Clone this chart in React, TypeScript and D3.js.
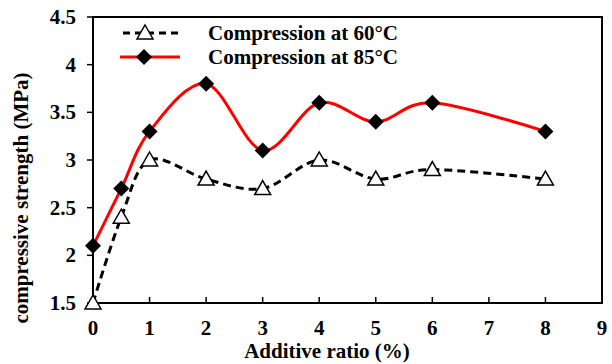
import React from "react";
import * as d3 from "d3";

const ratios = [0, 0.5, 1, 2, 3, 4, 5, 6, 8];
const comp60 = [1.5, 2.4, 3.0, 2.8, 2.7, 3.0, 2.8, 2.9, 2.8];
const comp85 = [2.1, 2.7, 3.3, 3.8, 3.1, 3.6, 3.4, 3.6, 3.3];
const xTicks = [0, 1, 2, 3, 4, 5, 6, 7, 8, 9];
const yTicks = [1.5, 2, 2.5, 3, 3.5, 4, 4.5];
const legendLabels = ["Compression at 60°C", "Compression at 85°C"];

const width = 612;
const height = 364;
const txt = { fontFamily: "'Liberation Serif', 'Times New Roman', serif", fontWeight: 700 } as const;

export default function App() {
  const x = d3.scaleLinear().domain([0, 9]).range([93, 602]);
  const y = d3.scaleLinear().domain([1.5, 4.5]).range([303, 17]);

  const line = d3
    .line<number>()
    .x((d, i) => x(ratios[i]))
    .y((d) => y(d))
    .curve(d3.curveCatmullRom.alpha(0));

  const triangle = (cx: number, cy: number) =>
    `M${cx},${cy - 8} L${cx + 8},${cy + 6} L${cx - 8},${cy + 6} Z`;
  const diamond = (cx: number, cy: number) =>
    `M${cx},${cy - 8} L${cx + 8},${cy} L${cx},${cy + 8} L${cx - 8},${cy} Z`;

  return (
    <svg
      width={width}
      height={height}
      style={{ position: "absolute", left: 0, top: 0, background: "#fff" }}
    >
      {/* frame */}
      <rect x={93} y={17} width={509} height={286} fill="none" stroke="#000" strokeWidth={2} />

      {/* x ticks (inside) */}
      {xTicks.map((t) => (
        <g key={"x" + t}>
          <line x1={x(t)} x2={x(t)} y1={303} y2={297} stroke="#000" strokeWidth={1.5} />
          <text x={x(t)} y={335} textAnchor="middle" fontSize={21} style={txt}>
            {t}
          </text>
        </g>
      ))}

      {/* y ticks (outside) */}
      {yTicks.map((t) => (
        <g key={"y" + t}>
          <line x1={87} x2={93} y1={y(t)} y2={y(t)} stroke="#000" strokeWidth={1.5} />
          <text x={76} y={y(t) + 7} textAnchor="end" fontSize={21} style={txt}>
            {t}
          </text>
        </g>
      ))}

      <text x={327} y={358} textAnchor="middle" fontSize={21} style={txt}>
        Additive ratio (%)
      </text>
      <text
        transform={`translate(28,198) rotate(-90)`}
        textAnchor="middle"
        fontSize={21}
        style={txt}
      >
        compressive strength (MPa)
      </text>

      {/* series */}
      <path d={line(comp85) || ""} fill="none" stroke="#ff0000" strokeWidth={3} />
      <path
        d={line(comp60) || ""}
        fill="none"
        stroke="#000"
        strokeWidth={3}
        strokeDasharray="8,5"
      />
      {comp85.map((v, i) => (
        <path key={"d" + i} d={diamond(x(ratios[i]), y(v))} fill="#000" />
      ))}
      {comp60.map((v, i) => (
        <path
          key={"t" + i}
          d={triangle(x(ratios[i]), y(v))}
          fill="#fff"
          stroke="#000"
          strokeWidth={1.5}
        />
      ))}

      {/* legend */}
      <g>
        <line x1={123} x2={181} y1={33} y2={33} stroke="#000" strokeWidth={3} strokeDasharray="7,5" />
        <path d={triangle(145, 33)} fill="#fff" stroke="#000" strokeWidth={1.5} />
        <text x={208} y={40} fontSize={21} style={txt}>
          {legendLabels[0]}
        </text>
        <line x1={120} x2={180} y1={57} y2={57} stroke="#ff0000" strokeWidth={3} />
        <path d={diamond(144, 57)} fill="#000" />
        <text x={208} y={64} fontSize={21} style={txt}>
          {legendLabels[1]}
        </text>
      </g>
    </svg>
  );
}
